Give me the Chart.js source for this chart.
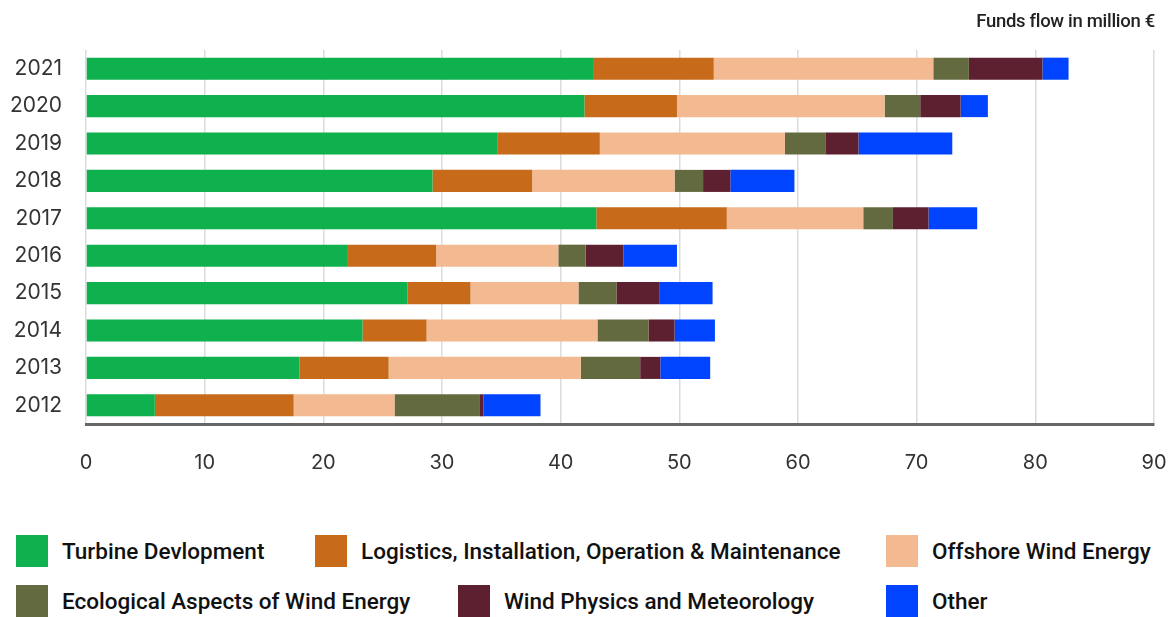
<!DOCTYPE html>
<html>
<head>
<meta charset="utf-8">
<script src="https://cdn.jsdelivr.net/npm/chart.js@4/dist/chart.umd.min.js"></script>
<style>
  html, body { margin: 0; padding: 0; background: #fff; }
  #wrap { position: relative; width: 1171px; height: 617px; overflow: hidden; }
  #chartBox { position: absolute; left: 0; top: 0; width: 1171px; height: 490px; }
  #title { position: absolute; right: 16px; top: 10px; font-family: Roboto, sans-serif; font-weight: 500; font-size: 18.5px; color: #222; letter-spacing: -0.3px; }
  .lg { position: absolute; display: flex; align-items: center; font-family: Roboto, sans-serif; font-weight: 500; font-size: 22.5px; color: #111; white-space: nowrap; }
  .lg .box { width: 32px; height: 32px; margin-right: 14px; }
</style>
</head>
<body>
<div id="wrap">
  <div id="chartBox"><canvas id="c"></canvas></div>
  <div id="title">Funds flow in million €</div>
  <div id="legend"></div>
</div>
<script>
const years = ["2021","2020","2019","2018","2017","2016","2015","2014","2013","2012"];
const seriesNames = ["Turbine Devlopment","Logistics, Installation, Operation & Maintenance","Offshore Wind Energy","Ecological Aspects of Wind Energy","Wind Physics and Meteorology","Other"];
const turbine    = [42.8, 42.0, 34.7, 29.2, 43.0, 22.0, 27.1, 23.3, 18.0, 5.8];
const logistics  = [10.1,  7.8,  8.6,  8.4, 11.0,  7.5,  5.3,  5.4,  7.5, 11.7];
const offshore   = [18.5, 17.5, 15.6, 12.0, 11.5, 10.3,  9.1, 14.4, 16.2,  8.5];
const ecological = [ 3.0,  3.0,  3.4,  2.4,  2.5,  2.3,  3.2,  4.3,  5.0,  7.2];
const physics    = [ 6.2,  3.4,  2.8,  2.3,  3.0,  3.2,  3.6,  2.2,  1.7,  0.3];
const other      = [ 2.2,  2.3,  7.9,  5.4,  4.1,  4.5,  4.5,  3.4,  4.2,  4.8];
const xTicks = [0,10,20,30,40,50,60,70,80,90];
const colors = ["#0fb04e","#c76b1b","#f3b991","#646a3f","#5c2031","#0044ff"];

const seriesData = [turbine, logistics, offshore, ecological, physics, other];
const datasets = seriesNames.map((n, i) => ({
  label: n, data: seriesData[i], backgroundColor: colors[i],
  borderWidth: 0, categoryPercentage: 1.0, barPercentage: 0.59
}));

const chart = new Chart(document.getElementById('c'), {
  type: 'bar',
  data: { labels: years, datasets },
  options: {
    indexAxis: 'y',
    responsive: true,
    maintainAspectRatio: false,
    animation: false,
    layout: { padding: { top: 50, right: 17, bottom: 0, left: 0 } },
    plugins: { legend: { display: false }, tooltip: { enabled: false } },
    scales: {
      x: {
        stacked: true, min: 0, max: 90,
        afterBuildTicks: s => { s.ticks = xTicks.map(v => ({ value: v })); },
        afterFit: s => { s.height = 66; s.paddingLeft = 0; s.paddingRight = 0; },
        grid: { color: '#dcdcdc', lineWidth: 1.5, drawTicks: false },
        border: { display: true, color: '#666', width: 3 },
        ticks: { padding: 27, color: '#333', font: { family: 'Inter, sans-serif', size: 20 } }
      },
      y: {
        stacked: true,
        afterFit: s => { s.width = 86; s.paddingTop = 0; s.paddingBottom = 0; },
        grid: { display: false, drawTicks: false },
        border: { display: false },
        ticks: { padding: 24, color: '#333', font: { family: 'Inter, sans-serif', size: 21 } }
      }
    }
  }
});

// HTML legend built from the chart's datasets
const legendPos = [[16,535],[315,535],[886,535],[16,585],[458,585],[886,585]];
const lg = document.getElementById('legend');
chart.data.datasets.forEach((ds, i) => {
  const d = document.createElement('div');
  d.className = 'lg';
  d.style.left = legendPos[i][0] + 'px';
  d.style.top = legendPos[i][1] + 'px';
  d.innerHTML = '<span class="box" style="background:' + ds.backgroundColor + '"></span><span>' + ds.label + '</span>';
  lg.appendChild(d);
});
</script>
</body>
</html>
